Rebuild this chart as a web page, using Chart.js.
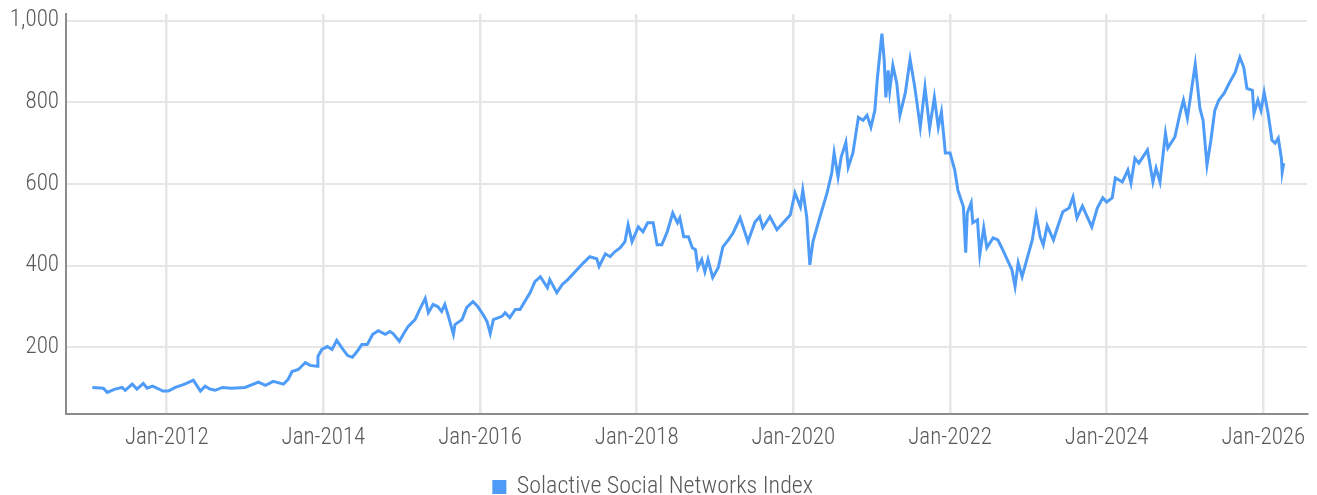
<!DOCTYPE html>
<html>
<head>
<meta charset="utf-8">
<script src="https://cdn.jsdelivr.net/npm/chart.js@4/dist/chart.umd.min.js"></script>
<style>
  html, body { margin: 0; padding: 0; background: #fff; }
  #wrap { width: 1317px; height: 495px; }
</style>
</head>
<body>
<div id="wrap"><canvas id="chart"></canvas></div>
<script>
/* series: decimal years and index level */
const years = [
  2011.05, 2011.19, 2011.24, 2011.34, 2011.43, 2011.47, 2011.56, 2011.62, 2011.70, 2011.75,
  2011.82, 2011.88, 2011.95, 2012.02, 2012.11, 2012.23, 2012.34, 2012.43, 2012.49, 2012.55,
  2012.62, 2012.71, 2012.83, 2013.00, 2013.17, 2013.26, 2013.36, 2013.49, 2013.55, 2013.60,
  2013.68, 2013.77, 2013.83, 2013.92, 2013.93, 2013.98, 2014.05, 2014.11, 2014.17, 2014.25,
  2014.31, 2014.37, 2014.43, 2014.49, 2014.56, 2014.63, 2014.70, 2014.79, 2014.85, 2014.89,
  2014.97, 2015.02, 2015.08, 2015.17, 2015.23, 2015.30, 2015.34, 2015.40, 2015.46, 2015.51,
  2015.55, 2015.59, 2015.66, 2015.68, 2015.77, 2015.83, 2015.91, 2015.97, 2016.04, 2016.09,
  2016.13, 2016.17, 2016.28, 2016.32, 2016.38, 2016.45, 2016.51, 2016.57, 2016.64, 2016.70,
  2016.77, 2016.86, 2016.89, 2016.98, 2017.05, 2017.12, 2017.32, 2017.40, 2017.49, 2017.52,
  2017.60, 2017.66, 2017.72, 2017.79, 2017.85, 2017.89, 2017.94, 2018.02, 2018.08, 2018.14,
  2018.21, 2018.26, 2018.32, 2018.39, 2018.46, 2018.52, 2018.55, 2018.60, 2018.66, 2018.71,
  2018.75, 2018.78, 2018.83, 2018.87, 2018.91, 2018.97, 2019.04, 2019.10, 2019.17, 2019.23,
  2019.32, 2019.42, 2019.51, 2019.57, 2019.61, 2019.70, 2019.79, 2019.87, 2019.96, 2020.02,
  2020.09, 2020.12, 2020.17, 2020.21, 2020.25, 2020.34, 2020.43, 2020.49, 2020.52, 2020.57,
  2020.61, 2020.67, 2020.70, 2020.76, 2020.83, 2020.89, 2020.94, 2020.99, 2021.04, 2021.07,
  2021.13, 2021.16, 2021.18, 2021.21, 2021.23, 2021.27, 2021.32, 2021.36, 2021.43, 2021.49,
  2021.55, 2021.62, 2021.68, 2021.74, 2021.80, 2021.85, 2021.89, 2021.94, 2022.00, 2022.06,
  2022.10, 2022.17, 2022.20, 2022.22, 2022.27, 2022.29, 2022.35, 2022.38, 2022.43, 2022.47,
  2022.55, 2022.61, 2022.66, 2022.73, 2022.79, 2022.83, 2022.87, 2022.92, 2022.98, 2023.05,
  2023.10, 2023.15, 2023.19, 2023.24, 2023.32, 2023.37, 2023.44, 2023.52, 2023.57, 2023.62,
  2023.69, 2023.75, 2023.81, 2023.88, 2023.95, 2024.00, 2024.07, 2024.11, 2024.20, 2024.27,
  2024.31, 2024.36, 2024.41, 2024.52, 2024.55, 2024.59, 2024.63, 2024.68, 2024.75, 2024.78,
  2024.87, 2024.94, 2024.98, 2025.03, 2025.13, 2025.19, 2025.23, 2025.28, 2025.33, 2025.38,
  2025.43, 2025.50, 2025.57, 2025.64, 2025.70, 2025.75, 2025.79, 2025.86, 2025.88, 2025.93,
  2025.97, 2026.01, 2026.06, 2026.11, 2026.15, 2026.19, 2026.23, 2026.24, 2026.26
];
const levels = [
  102, 100, 90, 98, 102, 95, 110, 98, 112, 100,
  105, 100, 93, 93, 102, 110, 120, 93, 105, 98,
  95, 102, 100, 102, 115, 107, 117, 110, 122, 141,
  146, 163, 156, 154, 178, 195, 202, 195, 217, 195,
  180, 176, 190, 207, 207, 232, 241, 232, 239, 234,
  215, 232, 251, 268, 293, 320, 285, 305, 300, 288,
  305, 280, 232, 256, 268, 298, 312, 300, 280, 263,
  234, 268, 276, 285, 273, 293, 293, 312, 334, 361,
  373, 346, 366, 334, 354, 366, 407, 422, 417, 398,
  429, 422, 434, 444, 459, 500, 459, 495, 483, 505,
  505, 451, 451, 483, 529, 505, 517, 471, 471, 444,
  439, 395, 415, 385, 415, 371, 395, 446, 463, 480,
  517, 459, 507, 520, 493, 520, 488, 505, 524, 578,
  544, 585, 520, 402, 459, 520, 578, 627, 676, 617,
  666, 702, 641, 676, 763, 756, 768, 739, 780, 854,
  968, 902, 812, 878, 829, 890, 846, 768, 824, 905,
  837, 739, 837, 737, 812, 739, 776, 676, 676, 634,
  585, 544, 432, 529, 554, 505, 512, 427, 493, 444,
  468, 463, 444, 415, 390, 349, 407, 373, 415, 463,
  524, 471, 451, 498, 463, 493, 532, 541, 568, 517,
  546, 520, 495, 541, 566, 556, 566, 615, 605, 634,
  602, 663, 651, 683, 651, 605, 639, 605, 724, 688,
  715, 776, 805, 761, 893, 785, 756, 646, 707, 780,
  805, 822, 849, 873, 910, 885, 834, 829, 773, 805,
  780, 824, 773, 707, 700, 712, 663, 629, 651
];
const xTicks = [2012, 2014, 2016, 2018, 2020, 2022, 2024, 2026];
const yTicks = [200, 400, 600, 800, 1000];
const seriesName = 'Solactive Social Networks Index';

const FONT = "'Roboto Condensed', 'DejaVu Sans Condensed', sans-serif";
const TEXT = '#595959';
const GRID = '#e6e6e6';
const AXIS = '#8c8c8c';
const BLUE = '#4e9cf7';
const tickFont = { family: FONT, size: 23, weight: 300 };

const points = years.map((x, i) => ({ x, y: levels[i] }));

new Chart(document.getElementById('chart'), {
  type: 'line',
  data: {
    datasets: [{
      label: seriesName,
      data: points,
      borderColor: BLUE,
      backgroundColor: BLUE,
      borderWidth: 3,
      pointRadius: 0,
      tension: 0,
      pointStyle: 'rect'
    }]
  },
  options: {
    responsive: true,
    maintainAspectRatio: false,
    animation: false,
    layout: { padding: { top: 14, right: 10, left: 0, bottom: -14 } },
    plugins: {
      tooltip: { enabled: false },
      legend: {
        position: 'bottom',
        labels: {
          usePointStyle: true,
          pointStyle: 'rect',
          boxWidth: 11,
          boxHeight: 11,
          padding: 0,
          color: TEXT,
          font: { family: FONT, size: 24, weight: 300 }
        }
      }
    },
    scales: {
      x: {
        type: 'linear',
        min: 2010.714,
        max: 2026.557,
        afterBuildTicks: axis => { axis.ticks = xTicks.map(v => ({ value: v })); },
        afterFit: axis => { axis.height = 61; },
        ticks: {
          autoSkip: false,
          maxRotation: 0,
          padding: 10,
          color: TEXT,
          font: tickFont,
          callback: v => 'Jan-' + v
        },
        grid: { color: GRID, lineWidth: 2.5, drawTicks: false },
        border: { color: AXIS, width: 2 }
      },
      y: {
        min: 37,
        max: 1016,
        afterBuildTicks: axis => { axis.ticks = yTicks.map(v => ({ value: v })); },
        afterFit: axis => { axis.width = 66; axis.paddingTop = 0; axis.paddingBottom = 0; },
        ticks: {
          padding: 7,
          color: TEXT,
          font: tickFont,
          callback: v => v.toLocaleString('en-US')
        },
        grid: { color: GRID, lineWidth: 2, drawTicks: false },
        border: { color: AXIS, width: 2 }
      }
    }
  }
});
</script>
</body>
</html>
